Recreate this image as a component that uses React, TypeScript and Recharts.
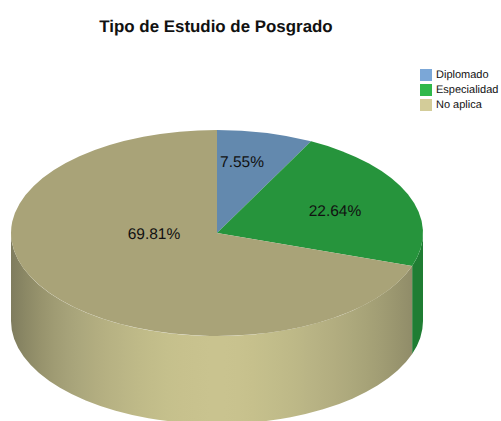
import { PieChart, Pie, Cell, Legend } from 'recharts'

const categories = ['Diplomado', 'Especialidad', 'No aplica']
const shares = [7.55, 22.64, 69.81]

const LEGEND_COLORS = ['#7ba7d7', '#2fb84a', '#d3cc99']
const TOP_COLORS = ['#6389ae', '#26943c', '#a9a378']
const WALL_COLORS = ['#4f6d8a', '#1f7d33', '#c9c38f']

// shades of the khaki wall, left to right
const WALL_SHADES = [
  '#7f7c5e', '#8b8865', '#96926c', '#9f9b73', '#a6a279', '#aca87d', '#b2ad80', '#b7b283', '#bbb686', '#bfba88',
  '#c2bd8a', '#c5c08c', '#c7c18d', '#c8c28e', '#c9c38f', '#c9c38f', '#c8c28e', '#c6c08c', '#c3be8b', '#c0bb89',
  '#bdb887', '#b9b485', '#b5b082', '#b1ac7f', '#aca87c', '#a7a378', '#a19d74', '#9a966f', '#928e6a', '#8a8664',
]

// label anchor, relative to the pie centre
const LABEL_OFFSETS = [[25, -71], [118, -22], [-63, 1]]

const CX = 217
const CY = 233
const RX = 206
const SQUASH = 0.5
const DEPTH = 88

const tableData = categories.map((name, i) => ({ name, value: shares[i] }))

function point(cx: number, cy: number, r: number, deg: number) {
  const rad = (deg * Math.PI) / 180
  return [cx + r * Math.cos(rad), cy - r * Math.sin(rad) * SQUASH]
}

// recharts hands us clockwise angles, from 90 down to -270
function Slice3D(props: any) {
  const { cx, cy, outerRadius: r, startAngle, endAngle, name } = props
  const i = categories.indexOf(name)
  const [sx, sy] = point(cx, cy, r, startAngle)
  const [ex, ey] = point(cx, cy, r, endAngle)
  const large = Math.abs(startAngle - endAngle) > 180 ? 1 : 0
  const top = `M${cx},${cy} L${sx},${sy} A${r},${r * SQUASH} 0 ${large} 1 ${ex},${ey} Z`

  // the wall only shows on the front half, angles 0 to -180
  const a1 = Math.min(startAngle, 0)
  const a2 = Math.max(endAngle, -180)
  let wall = null
  if (a1 > a2) {
    const [x1, y1] = point(cx, cy, r, a1)
    const [x2, y2] = point(cx, cy, r, a2)
    const rr = `${r},${r * SQUASH}`
    const d = `M${x1},${y1} A${rr} 0 0 1 ${x2},${y2} L${x2},${y2 + DEPTH} A${rr} 0 0 0 ${x1},${y1 + DEPTH} Z`
    wall = <path d={d} fill={i === 2 ? 'url(#wallKhaki)' : WALL_COLORS[i]} />
  }

  return (
    <g>
      <defs>
        <linearGradient id="wallKhaki" gradientUnits="userSpaceOnUse" x1={cx - r} x2={cx + r} y1={0} y2={0}>
          {WALL_SHADES.map((c, k) => (
            <stop key={k} offset={k / (WALL_SHADES.length - 1)} stopColor={c} />
          ))}
        </linearGradient>
      </defs>
      {wall}
      <path d={top} fill={TOP_COLORS[i]} />
    </g>
  )
}

function renderLabel(props: any) {
  const { cx, cy, percent, index } = props
  const [dx, dy] = LABEL_OFFSETS[index]
  return (
    <text
      x={cx + dx}
      y={cy + dy}
      textAnchor="middle"
      dominantBaseline="central"
      fill="#111"
      fontSize={15.5}
      fontFamily="Liberation Sans"
      textRendering="geometricPrecision"
    >
      {`${(percent * 100).toFixed(2)}%`}
    </text>
  )
}

function LegendBox() {
  return (
    <div style={{ fontFamily: 'Liberation Sans', fontSize: 11, color: '#111', textRendering: 'geometricPrecision' }}>
      {categories.map((name, i) => (
        <div key={name} style={{ display: 'flex', alignItems: 'center', height: 15 }}>
          <span style={{ width: 12, height: 12, background: LEGEND_COLORS[i], marginRight: 4 }} />
          {name}
        </div>
      ))}
    </div>
  )
}

export default function App() {
  return (
    <div style={{ position: 'absolute', left: 0, top: 0, width: 501, height: 421 }}>
      <PieChart width={501} height={421} margin={{ top: 0, right: 0, bottom: 0, left: 0 }}>
        <text
          x={216}
          y={26}
          textAnchor="middle"
          dominantBaseline="central"
          fontFamily="Liberation Sans"
          fontWeight="bold"
          fontSize={16.9}
          fill="#111"
          textRendering="geometricPrecision"
        >
          Tipo de Estudio de Posgrado
        </text>
        <Pie
          data={tableData}
          dataKey="value"
          nameKey="name"
          cx={CX}
          cy={CY}
          outerRadius={RX}
          startAngle={90}
          endAngle={-270}
          stroke="none"
          label={renderLabel}
          labelLine={false}
          shape={Slice3D}
          inactiveShape={Slice3D}
          activeShape={Slice3D}
          isAnimationActive={false}
        >
          {tableData.map((d, i) => (
            <Cell key={d.name} fill={LEGEND_COLORS[i]} />
          ))}
        </Pie>
        <Legend content={<LegendBox />} wrapperStyle={{ position: 'absolute', left: 420, top: 67, width: 81, bottom: 'auto' }} />
      </PieChart>
    </div>
  )
}
